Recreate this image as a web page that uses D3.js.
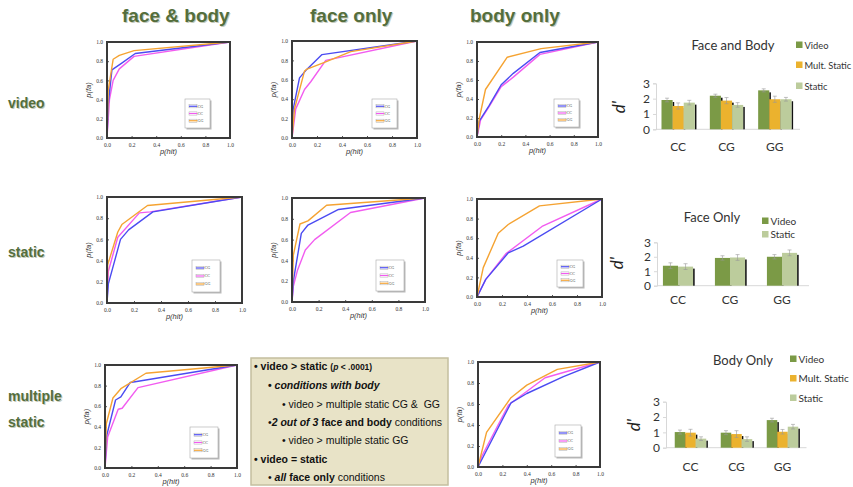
<!DOCTYPE html>
<html>
<head>
<meta charset="utf-8">
<script src="https://cdn.jsdelivr.net/npm/d3@7"></script>
<style>
  body { margin: 0; background: #fff; }
</style>
</head>
<body>
<div id="fig"></div>
<script>
// ROC curves: [p(hit), p(fa)] points, series order CG, CC, GG
var seriesNames = ["CG", "CC", "GG"];
var seriesColors = ["#4b4bf2", "#f25cf0", "#f5a332"];

var rocFaceBodyVideo = [
  [[0,0],[0.01,0.35],[0.04,0.71],[0.12,0.78],[0.23,0.88],[1,1]],
  [[0,0],[0.02,0.4],[0.05,0.6],[0.1,0.72],[0.22,0.85],[1,1]],
  [[0,0],[0.01,0.5],[0.05,0.82],[0.1,0.86],[0.22,0.91],[1,1]]
];
var rocFaceVideo = [
  [[0,0],[0.01,0.3],[0.06,0.62],[0.12,0.71],[0.24,0.86],[1,1]],
  [[0,0],[0.03,0.3],[0.1,0.5],[0.15,0.58],[0.27,0.8],[1,1]],
  [[0,0],[0.02,0.3],[0.1,0.69],[0.12,0.71],[0.26,0.78],[0.47,0.89],[1,1]]
];
var rocBodyVideo = [
  [[0,0],[0.02,0.17],[0.1,0.33],[0.2,0.55],[0.3,0.67],[0.52,0.89],[1,1]],
  [[0,0],[0.03,0.18],[0.1,0.32],[0.2,0.53],[0.3,0.63],[0.52,0.87],[1,1]],
  [[0,0],[0.02,0.2],[0.07,0.5],[0.25,0.84],[0.53,0.93],[1,1]]
];
var rocFaceBodyStatic = [
  [[0,0],[0.01,0.18],[0.1,0.6],[0.16,0.69],[0.34,0.86],[1,1]],
  [[0,0],[0.01,0.3],[0.08,0.62],[0.24,0.85],[0.32,0.86],[1,1]],
  [[0,0],[0.005,0.36],[0.08,0.67],[0.11,0.74],[0.3,0.92],[1,1]]
];
var rocFaceStatic = [
  [[0,0],[0.01,0.2],[0.07,0.66],[0.12,0.74],[0.35,0.89],[1,1]],
  [[0,0],[0.01,0.15],[0.04,0.3],[0.1,0.5],[0.17,0.6],[0.44,0.86],[1,1]],
  [[0,0],[0.01,0.45],[0.06,0.75],[0.12,0.78],[0.26,0.93],[1,1]]
];
var rocBodyStatic = [
  [[0,0],[0.07,0.18],[0.25,0.45],[0.37,0.52],[1,1]],
  [[0,0],[0.07,0.18],[0.23,0.44],[0.52,0.72],[1,1]],
  [[0,0],[0.05,0.3],[0.17,0.65],[0.25,0.74],[0.5,0.93],[1,1]]
];
var rocFaceBodyMult = [
  [[0,0],[0.01,0.3],[0.08,0.66],[0.12,0.69],[0.19,0.83],[0.24,0.84],[1,1]],
  [[0,0],[0.02,0.3],[0.1,0.57],[0.13,0.58],[0.25,0.78],[1,1]],
  [[0,0],[0.01,0.43],[0.06,0.68],[0.12,0.77],[0.31,0.92],[1,1]]
];
var rocBodyMult = [
  [[0,0],[0.27,0.61],[0.4,0.7],[0.7,0.86],[1,1]],
  [[0,0],[0.03,0.1],[0.25,0.59],[0.55,0.85],[1,1]],
  [[0,0],[0.07,0.33],[0.27,0.66],[0.4,0.78],[0.65,0.93],[1,1]]
];
var rocTicks = [0, 0.2, 0.4, 0.6, 0.8, 1.0];

// d' bar charts
var barCats = ["CC", "CG", "GG"];
var dTicks = [0, 1, 2, 3];
var fbVideo = [1.91, 2.19, 2.54], fbVideoErr = [0.12, 0.1, 0.1];
var fbMult = [1.52, 1.87, 1.96], fbMultErr = [0.2, 0.2, 0.2];
var fbStatic = [1.74, 1.59, 1.96], fbStaticErr = [0.15, 0.15, 0.12];
var foVideo = [1.38, 1.92, 2.0], foVideoErr = [0.2, 0.15, 0.15];
var foStatic = [1.32, 1.95, 2.27], foStaticErr = [0.2, 0.2, 0.2];
var boVideo = [1.02, 0.98, 1.8], boVideoErr = [0.13, 0.13, 0.12];
var boMult = [0.98, 0.89, 1.04], boMultErr = [0.22, 0.22, 0.15];
var boStatic = [0.59, 0.56, 1.37], boStaticErr = [0.12, 0.15, 0.15];

var W = 853, H = 487;
var svg = d3.select("#fig").append("svg")
    .attr("width", W).attr("height", H)
    .style("font-family", "'Liberation Sans', Arial, sans-serif");

var headColor = "#546e3c";

// Shadowed heading text
function heading(x, y, txt, size) {
  svg.append("text").attr("x", x + 1).attr("y", y + 1)
    .attr("font-size", size).attr("font-weight", "bold")
    .attr("fill", "#c5cbbd").text(txt);
  svg.append("text").attr("x", x).attr("y", y)
    .attr("font-size", size).attr("font-weight", "bold")
    .attr("fill", headColor).text(txt);
}
heading(122, 22, "face & body", 19);
heading(310, 22, "face only", 19);
heading(470, 22, "body only", 19);
heading(8, 108, "video", 14);
heading(8, 257, "static", 14);
heading(8, 401, "multiple", 14);
heading(8, 427, "static", 14);

// ROC panels (layout only)
var panels = [
  {data: rocFaceBodyVideo, x0: 107, x1: 230, y0: 42, y1: 138, lx: 185, ly: 99, lw: 25, lh: 29},
  {data: rocFaceVideo, x0: 292, x1: 417, y0: 41, y1: 138, lx: 372, ly: 99, lw: 25, lh: 29},
  {data: rocBodyVideo, x0: 477, x1: 598, y0: 42, y1: 137, lx: 554, ly: 99, lw: 25, lh: 28},
  {data: rocFaceBodyStatic, x0: 107, x1: 242, y0: 197, y1: 303, lx: 192, ly: 260, lw: 28, lh: 32},
  {data: rocFaceStatic, x0: 292, x1: 425, y0: 198, y1: 302, lx: 376, ly: 260, lw: 28, lh: 31},
  {data: rocBodyStatic, x0: 477, x1: 602, y0: 199, y1: 297, lx: 557, ly: 260, lw: 26, lh: 27},
  {data: rocFaceBodyMult, x0: 105, x1: 237, y0: 365, y1: 468, lx: 190, ly: 427, lw: 28, lh: 31},
  {data: rocBodyMult, x0: 478, x1: 600, y0: 362, y1: 467, lx: 555, ly: 425, lw: 26, lh: 32}
];

panels.forEach(function(p) {
  var g = svg.append("g");
  var x = d3.scaleLinear().domain([0, 1]).range([p.x0, p.x1]);
  var y = d3.scaleLinear().domain([0, 1]).range([p.y1, p.y0]);

  g.append("rect")
    .attr("x", p.x0).attr("y", p.y0)
    .attr("width", p.x1 - p.x0).attr("height", p.y1 - p.y0)
    .attr("fill", "#fff");

  var xAxis = g.append("g")
    .attr("transform", "translate(0," + p.y1 + ")")
    .call(d3.axisBottom(x).tickValues(rocTicks).tickFormat(d3.format(".1f"))
      .tickSizeInner(-2).tickSizeOuter(0).tickPadding(5));
  var yAxis = g.append("g")
    .attr("transform", "translate(" + p.x0 + ",0)")
    .call(d3.axisLeft(y).tickValues(rocTicks).tickFormat(d3.format(".1f"))
      .tickSizeInner(-2).tickSizeOuter(0).tickPadding(4));
  [xAxis, yAxis].forEach(function(a) {
    a.select(".domain").remove();
    a.selectAll("line").attr("stroke", "#555");
    a.selectAll("text")
      .attr("font-family", "'Liberation Serif', serif")
      .attr("font-size", 5.5).attr("fill", "#333");
  });

  var line = d3.line().x(function(d) { return x(d[0]); }).y(function(d) { return y(d[1]); });
  [1, 0, 2].forEach(function(i) {
    g.append("path").datum(p.data[i])
      .attr("d", line).attr("fill", "none")
      .attr("stroke", seriesColors[i]).attr("stroke-width", 1.4)
      .attr("stroke-linejoin", "round");
  });

  g.append("rect")
    .attr("x", p.x0).attr("y", p.y0)
    .attr("width", p.x1 - p.x0).attr("height", p.y1 - p.y0)
    .attr("fill", "none").attr("stroke", "#3a3a3a").attr("stroke-width", 2);

  g.append("text")
    .attr("x", (p.x0 + p.x1) / 2).attr("y", p.y1 + 16)
    .attr("text-anchor", "middle").attr("font-size", 7.5)
    .attr("font-style", "italic").attr("fill", "#333")
    .text("p(hit)");
  g.append("text")
    .attr("transform", "translate(" + (p.x0 - 16) + "," + ((p.y0 + p.y1) / 2) + ") rotate(-90)")
    .attr("text-anchor", "middle").attr("font-size", 7.5)
    .attr("font-style", "italic").attr("fill", "#333")
    .text("p(fa)");

  // legend box
  g.append("rect")
    .attr("x", p.lx + 1.5).attr("y", p.ly + 1.5)
    .attr("width", p.lw).attr("height", p.lh).attr("fill", "#b9b9b9");
  g.append("rect")
    .attr("x", p.lx).attr("y", p.ly)
    .attr("width", p.lw).attr("height", p.lh)
    .attr("fill", "#fff").attr("stroke", "#aaa").attr("stroke-width", 0.6);
  seriesNames.forEach(function(n, i) {
    var ry = p.ly + p.lh * (0.25 + 0.25 * i);
    g.append("rect")
      .attr("x", p.lx + 4).attr("y", ry - 1.6)
      .attr("width", 8).attr("height", 3.2)
      .attr("fill", "#fff").attr("stroke", "#999").attr("stroke-width", 0.4);
    g.append("line")
      .attr("x1", p.lx + 4).attr("x2", p.lx + 12)
      .attr("y1", ry).attr("y2", ry)
      .attr("stroke", seriesColors[i]).attr("stroke-width", 1.2);
    g.append("text")
      .attr("x", p.lx + 12.5).attr("y", ry + 1.4)
      .attr("font-family", "'Liberation Serif', serif")
      .attr("font-size", 4).attr("fill", "#333").text(n);
  });
});

// text box
var box = svg.append("g");
box.append("rect")
  .attr("x", 251).attr("y", 358).attr("width", 197).attr("height", 127)
  .attr("fill", "#e8e3c7").attr("stroke", "#c4bf9f").attr("stroke-width", 1.5);

var fs = 10.5, fsSmall = 8.5;
var lines = [
  {x: 254, y: 370, parts: [["• video > static ", "bold", "normal", fs], ["(", "bold", "normal", fsSmall], ["p", "bold", "italic", fsSmall], [" < .0001)", "bold", "normal", fsSmall]]},
  {x: 268, y: 388.5, parts: [["• ", "bold", "normal", fs], ["conditions with body", "bold", "italic", fs]]},
  {x: 282, y: 407.5, parts: [["• video > multiple static CG &  GG", "normal", "normal", fs]]},
  {x: 268, y: 425.5, parts: [["•", "normal", "normal", fs], ["2 out of 3", "bold", "italic", fs], [" face and body", "bold", "normal", fs], [" conditions", "normal", "normal", fs]]},
  {x: 282, y: 444, parts: [["• video > multiple static GG", "normal", "normal", fs]]},
  {x: 254, y: 462.5, parts: [["• video = static", "bold", "normal", fs]]},
  {x: 268, y: 481, parts: [["• ", "normal", "normal", fs], ["all", "bold", "italic", fs], [" face only", "bold", "normal", fs], [" conditions", "normal", "normal", fs]]}
];
lines.forEach(function(l) {
  var t = box.append("text").attr("x", l.x).attr("y", l.y)
    .attr("fill", "#111").style("white-space", "pre");
  l.parts.forEach(function(pt) {
    t.append("tspan").attr("font-weight", pt[1]).attr("font-style", pt[2])
      .attr("font-size", pt[3]).text(pt[0]);
  });
});

// bar charts
var barColors = {video: "#7b9a46", mult: "#ebb22e", stat: "#bccc9c"};

var charts = [
  {title: "Face and Body", tx: 733, ty: 50, x0: 654, x1: 799, yb: 129.3, yt: 83.3,
   pin: 0.31, axisX: 656, dx: 625, dy: 107,
   series: [{k: "video", v: fbVideo, e: fbVideoErr}, {k: "mult", v: fbMult, e: fbMultErr}, {k: "stat", v: fbStatic, e: fbStaticErr}],
   legend: [{k: "video", t: "Video"}, {k: "mult", t: "Mult. Static"}, {k: "stat", t: "Static"}],
   lgx: 796, lgy: [45, 65, 86], lgfs: 9.3, caty: 151},
  {title: "Face Only", tx: 712, ty: 222, x0: 652, x1: 808, yb: 285.7, yt: 242.3,
   pin: 0.42, axisX: 657, dx: 623, dy: 263,
   series: [{k: "video", v: foVideo, e: foVideoErr}, {k: "stat", v: foStatic, e: foStaticErr}],
   legend: [{k: "video", t: "Video"}, {k: "stat", t: "Static"}],
   lgx: 762, lgy: [221, 234.5], lgfs: 10, caty: 304},
  {title: "Body Only", tx: 743, ty: 365, x0: 667.5, x1: 805.5, yb: 447.7, yt: 401.7,
   pin: 0.315, axisX: 666, dx: 640, dy: 425,
   series: [{k: "video", v: boVideo, e: boVideoErr}, {k: "mult", v: boMult, e: boMultErr}, {k: "stat", v: boStatic, e: boStaticErr}],
   legend: [{k: "video", t: "Video"}, {k: "mult", t: "Mult. Static"}, {k: "stat", t: "Static"}],
   lgx: 790, lgy: [359, 378.5, 398], lgfs: 10, caty: 471}
];

charts.forEach(function(c) {
  var g = svg.append("g").style("font-family", "Lato, 'Open Sans', sans-serif");
  var x = d3.scaleBand().domain(barCats).range([c.x0, c.x1])
    .paddingInner(c.pin).paddingOuter(c.pin / 2);
  var xs = d3.scaleBand().domain(d3.range(c.series.length)).range([0, x.bandwidth()]);
  var y = d3.scaleLinear().domain([0, 3]).range([c.yb, c.yt]);

  g.append("text").attr("x", c.tx).attr("y", c.ty)
    .attr("text-anchor", "middle").attr("font-size", 13).attr("fill", "#333")
    .text(c.title);

  // y axis
  var ya = g.append("g").attr("transform", "translate(" + c.axisX + ",0)")
    .call(d3.axisLeft(y).tickValues(dTicks).tickFormat(d3.format("d"))
      .tickSize(3).tickPadding(3));
  ya.select(".domain").attr("stroke", "#d8d8d8");
  ya.selectAll("line").attr("stroke", "#d8d8d8");
  ya.selectAll("text").attr("font-size", 12).attr("fill", "#333")
    .attr("font-family", "Lato, 'Open Sans', sans-serif");
  g.append("line").attr("x1", c.axisX).attr("x2", c.x1 + 1)
    .attr("y1", c.yb).attr("y2", c.yb).attr("stroke", "#d8d8d8");

  g.append("text")
    .attr("transform", "translate(" + c.dx + "," + c.dy + ") rotate(-90)")
    .attr("text-anchor", "middle").attr("font-size", 17)
    .attr("font-style", "italic").attr("fill", "#222").text("d'");

  barCats.forEach(function(cat, ci) {
    c.series.forEach(function(s, si) {
      var bx = x(cat) + xs(si), bw = xs.bandwidth(), v = s.v[ci];
      // drop shadow on the right side
      g.append("rect")
        .attr("x", bx + bw).attr("y", y(v) + 2)
        .attr("width", 1.6).attr("height", c.yb - y(v) - 2)
        .attr("fill", "#111");
      g.append("rect")
        .attr("x", bx).attr("y", y(v))
        .attr("width", bw).attr("height", c.yb - y(v))
        .attr("fill", barColors[s.k]);
    });
    c.series.forEach(function(s, si) {
      var cx = x(cat) + xs(si) + xs.bandwidth() / 2, v = s.v[ci], e = s.e[ci];
      g.append("line").attr("x1", cx).attr("x2", cx)
        .attr("y1", y(v - e)).attr("y2", y(v + e))
        .attr("stroke", "#999").attr("stroke-width", 0.6);
      [v - e, v + e].forEach(function(ev) {
        g.append("line").attr("x1", cx - 2).attr("x2", cx + 2)
          .attr("y1", y(ev)).attr("y2", y(ev))
          .attr("stroke", "#999").attr("stroke-width", 0.6);
      });
    });
    g.append("text").attr("x", x(cat) + x.bandwidth() / 2).attr("y", c.caty)
      .attr("text-anchor", "middle").attr("font-size", 12).attr("fill", "#333")
      .text(cat);
  });

  c.legend.forEach(function(l, i) {
    g.append("rect").attr("x", c.lgx).attr("y", c.lgy[i] - 3.5)
      .attr("width", 6.5).attr("height", 6.5).attr("fill", barColors[l.k]);
    g.append("text").attr("x", c.lgx + 8.5).attr("y", c.lgy[i] + 3.5)
      .attr("font-size", c.lgfs).attr("fill", "#333").text(l.t);
  });
});
</script>
</body>
</html>
